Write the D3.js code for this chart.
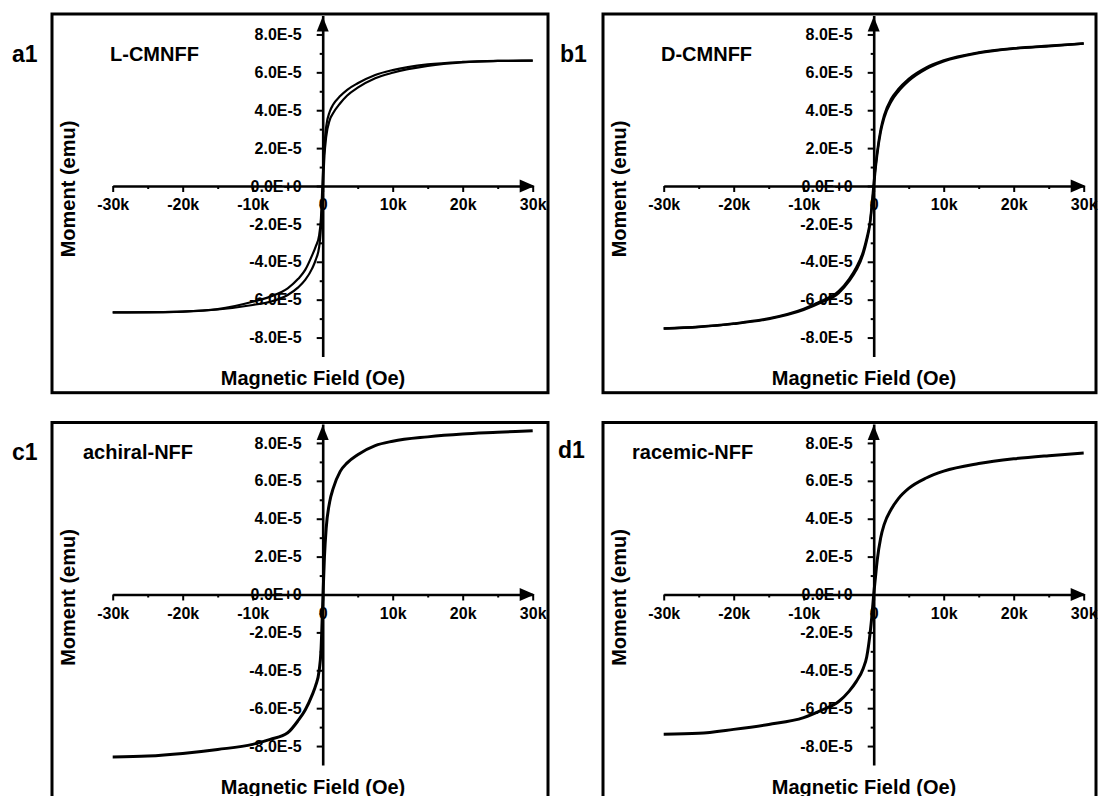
<!DOCTYPE html>
<html>
<head>
<meta charset="utf-8">
<script src="https://cdn.jsdelivr.net/npm/d3@7"></script>
<style>
  body { margin: 0; background: #fff; }
  text { font-family: Arial, "Liberation Sans", sans-serif; font-weight: bold; fill: #000; }
</style>
</head>
<body>
<div id="chart"></div>
<script>
// field grid (Oe) shared by every loop
const fieldOe = [-30000, -25000, -20000, -15000, -10000, -7500, -5000, -3500, -2500, -1500, -1000, -500, -250, 0,
    250, 500, 1000, 1500, 2500, 3500, 5000, 7500, 10000, 15000, 20000, 25000, 30000];

// moment values in units of 1E-5 emu
const aDown = [-6.67, -6.66, -6.63, -6.50, -6.11, -5.84, -5.40, -4.90, -4.43, -3.65, -3.20, -2.59, -1.70, 0.40,
    2.10, 3.13, 3.92, 4.30, 4.75, 5.08, 5.42, 5.86, 6.12, 6.42, 6.55, 6.60, 6.62];
const aUp = [-6.67, -6.67, -6.63, -6.52, -6.28, -6.11, -5.75, -5.35, -4.96, -4.35, -3.90, -3.20, -2.20, -0.40,
    1.60, 2.60, 3.48, 3.85, 4.37, 4.78, 5.19, 5.69, 5.98, 6.34, 6.53, 6.60, 6.62];
const bDown = [-7.52, -7.43, -7.26, -6.99, -6.48, -6.08, -5.55, -4.90, -4.30, -3.45, -2.75, -1.80, -0.90, 0.15,
    1.00, 1.80, 3.00, 3.75, 4.60, 5.10, 5.65, 6.25, 6.63, 7.05, 7.27, 7.40, 7.52];
const bUp = [-7.52, -7.44, -7.28, -7.02, -6.54, -6.15, -5.65, -5.02, -4.45, -3.60, -2.90, -1.95, -1.05, -0.15,
    0.85, 1.65, 2.85, 3.60, 4.45, 4.98, 5.55, 6.18, 6.58, 7.02, 7.25, 7.38, 7.52];
const cLoop = [-8.58, -8.53, -8.39, -8.18, -7.91, -7.65, -7.30, -6.65, -6.10, -5.30, -4.80, -4.00, -3.00, -0.50,
    2.00, 3.50, 4.90, 5.60, 6.50, 6.95, 7.38, 7.86, 8.09, 8.32, 8.47, 8.56, 8.65];
const dLoop = [-7.38, -7.33, -7.12, -6.86, -6.50, -6.12, -5.65, -5.10, -4.60, -3.90, -3.30, -2.00, -1.10, 0.00,
    0.90, 1.80, 3.00, 3.70, 4.50, 5.05, 5.60, 6.15, 6.51, 6.91, 7.16, 7.33, 7.47];

const panelTags = ["a1", "b1", "c1", "d1"];
const sampleNames = ["L-CMNFF", "D-CMNFF", "achiral-NFF", "racemic-NFF"];

const xMajor = [-30000, -20000, -10000, 0, 10000, 20000, 30000];
const xMinor = [-25000, -15000, -5000, 5000, 15000, 25000];
const yMajor = [-8, -6, -4, -2, 0, 2, 4, 6, 8];
const yMinor = [-7, -5, -3, -1, 1, 3, 5, 7];

const xTitle = "Magnetic Field (Oe)";
const yTitle = "Moment (emu)";

var W = 1098, H = 796;

var svg = d3.select("#chart").append("svg")
    .attr("width", W)
    .attr("height", H);

svg.append("rect").attr("width", W).attr("height", H).attr("fill", "#fff");

// where each panel sits, and where its tag/name go (panel coordinates)
var panels = [
    { loops: [aDown, aUp], left: 0, top: 0, frameW: 496, frameH: 378.7, tag: [12, 62], name: [110, 61], lw: 2.2 },
    { loops: [bDown, bUp], left: 551, top: 0, frameW: 493, frameH: 378.7, tag: [9, 62], name: [110, 61], lw: 2.4 },
    { loops: [cLoop], left: 0, top: 408.5, frameW: 496, frameH: 420, tag: [12, 51.5], name: [83, 50.5], lw: 3 },
    { loops: [dLoop], left: 551, top: 408.5, frameW: 493, frameH: 420, tag: [7, 49.5], name: [81, 50.5], lw: 3 }
];

panels.forEach(function (p, i) {
    var g = svg.append("g")
        .attr("transform", "translate(" + p.left + "," + p.top + ")");

    var x = d3.scaleLinear().domain([-30000, 30000]).range([112.7, 532.7]);
    var y = d3.scaleLinear().domain([-9, 9]).range([356.5, 15.5]);
    var x0 = x(0), y0 = y(0);

    // frame
    g.append("rect")
        .attr("x", 52).attr("y", 14)
        .attr("width", p.frameW).attr("height", p.frameH)
        .attr("fill", "none").attr("stroke", "#000").attr("stroke-width", 3);

    // x axis through the origin
    g.append("g").attr("transform", "translate(0," + y0 + ")")
        .call(d3.axisBottom(x).tickValues(xMajor).tickSize(6).tickSizeOuter(0).tickPadding(7)
            .tickFormat(function (d) { return d === 0 ? "0" : (d / 1000) + "k"; }));
    g.append("g").attr("transform", "translate(0," + y0 + ")")
        .call(d3.axisBottom(x).tickValues(xMinor).tickSize(3).tickSizeOuter(0).tickFormat(""))
        .select(".domain").remove();

    // y axis through the origin
    g.append("g").attr("transform", "translate(" + x0 + ",0)")
        .call(d3.axisLeft(y).tickValues(yMajor).tickSize(6).tickSizeOuter(0).tickPadding(15)
            .tickFormat(function (d) { return d === 0 ? "0.0E+0" : d.toFixed(1) + "E-5"; }));
    g.append("g").attr("transform", "translate(" + x0 + ",0)")
        .call(d3.axisLeft(y).tickValues(yMinor).tickSize(3).tickSizeOuter(0).tickFormat(""))
        .select(".domain").remove();

    g.selectAll(".domain").attr("stroke", "#000").attr("stroke-width", 2.6);
    g.selectAll(".tick line").attr("stroke", "#000").attr("stroke-width", 2);
    g.selectAll(".tick text")
        .attr("font-family", "Arial, 'Liberation Sans', sans-serif")
        .attr("font-weight", "bold")
        .attr("font-size", 16)
        .attr("fill", "#000");

    // arrow heads
    var xe = x(30000) + 2;
    g.append("path")
        .attr("d", "M" + xe + "," + y0 + "L" + (xe - 15) + "," + (y0 - 6.5) + "L" + (xe - 15) + "," + (y0 + 6.5) + "Z")
        .attr("fill", "#000");
    var ye = y(9) + 1;
    g.append("path")
        .attr("d", "M" + x0 + "," + ye + "L" + (x0 - 6) + "," + (ye + 15) + "L" + (x0 + 6) + "," + (ye + 15) + "Z")
        .attr("fill", "#000");

    // hysteresis branches
    var line = d3.line()
        .x(function (d) { return x(d[0]); })
        .y(function (d) { return y(d[1]); })
        .curve(d3.curveMonotoneX);

    p.loops.forEach(function (vals) {
        g.append("path")
            .datum(d3.zip(fieldOe, vals))
            .attr("d", line)
            .attr("fill", "none")
            .attr("stroke", "#000")
            .attr("stroke-width", p.lw)
            .attr("stroke-linejoin", "round");
    });

    // titles
    g.append("text")
        .attr("x", 313).attr("y", 385)
        .attr("text-anchor", "middle")
        .attr("font-size", 20)
        .text(xTitle);

    g.append("text")
        .attr("transform", "translate(75,189) rotate(-90)")
        .attr("text-anchor", "middle")
        .attr("font-size", 20)
        .text(yTitle);

    g.append("text")
        .attr("x", p.name[0]).attr("y", p.name[1])
        .attr("font-size", 20)
        .text(sampleNames[i]);

    g.append("text")
        .attr("x", p.tag[0]).attr("y", p.tag[1])
        .attr("font-size", 23)
        .text(panelTags[i]);
});
</script>
</body>
</html>
